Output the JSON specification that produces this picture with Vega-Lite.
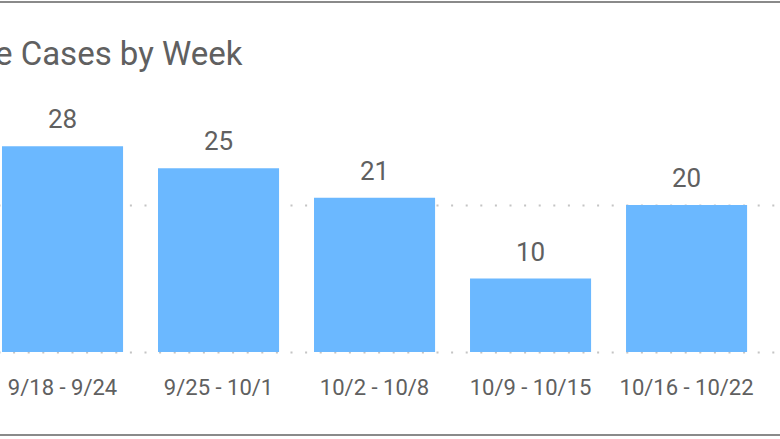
{
  "$schema": "https://vega.github.io/schema/vega-lite/v6.json",
  "autosize": {"type": "none"},
  "padding": {"left": -2, "right": -2, "top": 2, "bottom": 4},
  "width": 784,
  "height": 433,
  "background": "white",
  "title": {
    "text": "e Cases by Week",
    "anchor": "start",
    "frame": "group",
    "orient": "top",
    "baseline": "alphabetic",
    "offset": -96,
    "dx": -3,
    "font": "Roboto",
    "fontSize": 33,
    "fontWeight": "normal",
    "color": "#606060"
  },
  "data": {
    "values": [
      {"week": "9/18 - 9/24", "cases": 28},
      {"week": "9/25 - 10/1", "cases": 25},
      {"week": "10/2 - 10/8", "cases": 21},
      {"week": "10/9 - 10/15", "cases": 10},
      {"week": "10/16 - 10/22", "cases": 20}
    ]
  },
  "encoding": {
    "x": {
      "field": "week",
      "type": "nominal",
      "sort": null,
      "scale": {"paddingInner": 0.224, "paddingOuter": 0.1247, "align": 0.1027},
      "axis": {
        "title": null,
        "orient": "bottom",
        "domain": false,
        "ticks": false,
        "tickSize": 0,
        "labelAngle": 0,
        "labelBaseline": "alphabetic",
        "labelPadding": -41,
        "labelFont": "Roboto",
        "labelFontSize": 22,
        "labelColor": "#606060",
        "grid": false
      }
    },
    "y": {
      "field": "cases",
      "type": "quantitative",
      "scale": {"domain": [-11.29, 47.62], "nice": false, "zero": false},
      "axis": {
        "title": null,
        "values": [0, 20],
        "labels": false,
        "ticks": false,
        "domain": false,
        "grid": true,
        "gridColor": "#c4c4c4",
        "gridWidth": 2,
        "gridDash": [2, 12.6]
      }
    }
  },
  "layer": [
    {
      "mark": {"type": "bar", "color": "#6BB8FF"},
      "encoding": {"y2": {"datum": 0}}
    },
    {
      "mark": {
        "type": "text",
        "baseline": "alphabetic",
        "dy": -18,
        "font": "Roboto",
        "fontSize": 26,
        "color": "#606060"
      },
      "encoding": {"text": {"field": "cases", "type": "quantitative"}}
    }
  ],
  "config": {
    "view": {"stroke": "#8a8a8a", "strokeWidth": 2}
  }
}
